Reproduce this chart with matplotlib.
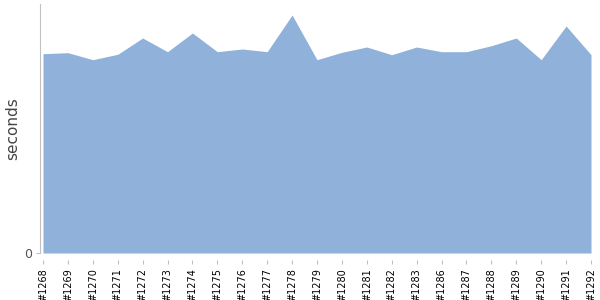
import numpy as np
import matplotlib.pyplot as plt

# build numbers (x axis) and run times in seconds
builds = ['#1268', '#1269', '#1270', '#1271', '#1272', '#1273', '#1274', '#1275',
          '#1276', '#1277', '#1278', '#1279', '#1280', '#1281', '#1282', '#1283',
          '#1286', '#1287', '#1288', '#1289', '#1290', '#1291', '#1292']
seconds = [199.3, 200.3, 193.3, 198.7, 215.0, 201.3, 220.0, 201.3, 204.0, 201.3,
           238.0, 193.3, 200.7, 206.0, 198.3, 206.0, 201.3, 201.3, 207.3, 215.0,
           193.3, 227.0, 198.3]

x = np.arange(len(builds))

fig = plt.figure(figsize=(6, 3), dpi=100)
ax = fig.add_axes([40 / 600, 47 / 300, 551 / 600, 249 / 300])

ax.fill_between(x, 0, seconds, color='#8fb1da', linewidth=0)

# spine position first: moving it resets the ticks
for s in ['top', 'right']:
    ax.spines[s].set_visible(False)
ax.spines['left'].set_color('#c0c0c0')
ax.spines['bottom'].set_position(('outward', 5))
ax.spines['bottom'].set_color('none')

ax.set_xlim(-0.12, len(builds) - 1)
ax.set_ylim(0, 249)

ax.set_xticks(x)
ax.set_xticklabels(builds, rotation=90, fontsize=7, color='black')
ax.set_yticks([0])
ax.set_yticklabels(['0'], fontsize=9, color='#555555')
ax.tick_params(axis='x', length=3, color='#c0c0c0', pad=3)
ax.tick_params(axis='y', length=3, color='#c0c0c0', pad=3)

ax.set_ylabel('seconds', fontsize=11, color='#444444')
ax.yaxis.set_label_coords(-20 / 551, 0.5)

fig.savefig('out.png', dpi=100)
